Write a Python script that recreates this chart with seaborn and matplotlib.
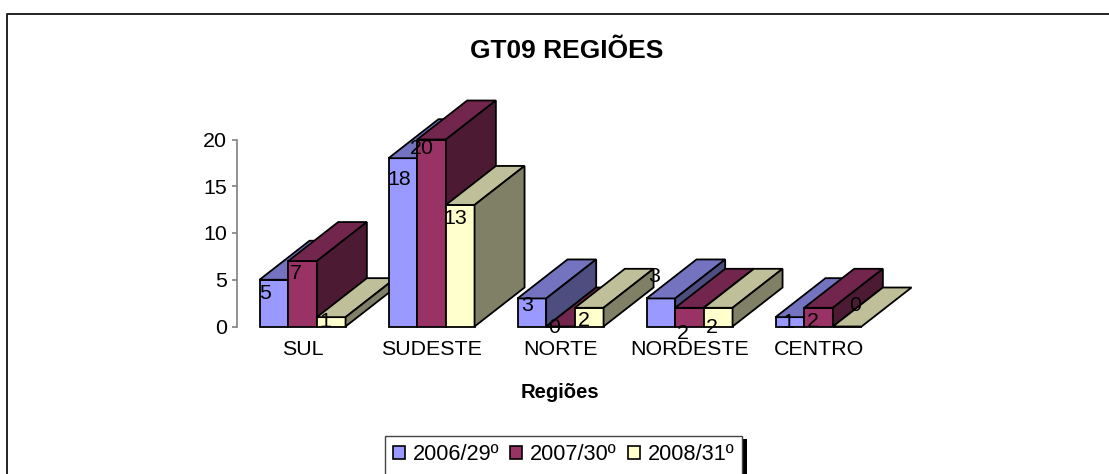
#######################################################
# GT09 regions - 3D look bar chart
#######################################################
import pandas as pd
import matplotlib
matplotlib.use('Agg')
import matplotlib.pyplot as plt
from matplotlib.patches import Polygon, Rectangle
from matplotlib.colors import to_rgb
import seaborn as sns

regions = ['SUL', 'SUDESTE', 'NORTE', 'NORDESTE', 'CENTRO']
series_names = ['2006/29º', '2007/30º', '2008/31º']
values_2006 = [5, 18, 3, 3, 1]
values_2007 = [7, 20, 0, 2, 2]
values_2008 = [1, 13, 2, 2, 0]
colors = ['#9999FF', '#993366', '#FFFFCC']

# where each value label sits, in pixels from the top centre of its bar
label_nudge = [
    [(-9, -14), (-7, -12), (-6, -4)],
    [(-4, -21), (-10, -9), (-5, -14)],
    [(-5, -7), (-6, -1), (-5, -13)],
    [(-7, 22), (-7, -26), (-6, -20)],
    [(-2, -5), (-6, -14), (8, 21)],
]

W, H = 1109, 474
DEPTH_X, DEPTH_Y = 50, 39  # pixels

sns.set_theme(style='white')
plt.rcParams['font.family'] = ['Liberation Sans', 'DejaVu Sans']
plt.rcParams['text.color'] = 'black'

df = pd.DataFrame({
    'region': regions * 3,
    'series': [s for s in series_names for _ in regions],
    'value': values_2006 + values_2007 + values_2008,
})

fig = plt.figure(figsize=(W / 100, H / 100), dpi=100, facecolor='white')
ax = fig.add_axes([237 / W, 1 - 326.5 / H, 645 / W, 187 / H])
ax.patch.set_visible(False)

sns.barplot(data=df, x='region', y='value', hue='series', hue_order=series_names,
            palette=colors, saturation=1, width=0.667, gap=0,
            edgecolor='black', linewidth=1.3, errorbar=None, ax=ax)

ax.set_ylim(0, 20)
ax.set_xlim(-0.508, 4.492)
ax.set_yticks([0, 5, 10, 15, 20])

# depth of the extrusion in data units
dx = DEPTH_X / 129
dy = DEPTH_Y / (187 / 20)


def shade(color, k):
    return tuple(c * k for c in to_rgb(color))


bars = [b for b in ax.patches if b.get_width() > 0][:15]
for s, name in enumerate(series_names):
    for r, region in enumerate(regions):
        bar = bars[s * len(regions) + r]
        z = 3 + r + s * 0.1
        x0, x1 = bar.get_x(), bar.get_x() + bar.get_width()
        top = bar.get_height()
        bar.set_zorder(z)
        bar.set_clip_on(False)
        top_face = [(x0, top), (x1, top), (x1 + dx, top + dy), (x0 + dx, top + dy)]
        side_face = [(x1, 0), (x1 + dx, dy), (x1 + dx, top + dy), (x1, top)]
        ax.add_patch(Polygon(top_face, closed=True, facecolor=shade(colors[s], 0.75),
                             edgecolor='black', linewidth=1.3, zorder=z, clip_on=False))
        if top > 0:
            ax.add_patch(Polygon(side_face, closed=True, facecolor=shade(colors[s], 0.5),
                                 edgecolor='black', linewidth=1.3, zorder=z, clip_on=False))
        ax.annotate(str(top if top % 1 else int(top)), xy=((x0 + x1) / 2, top),
                    xytext=label_nudge[r][s], textcoords='offset pixels',
                    ha='center', va='center', fontsize=15.4, color='black',
                    zorder=20, annotation_clip=False)

sns.despine(ax=ax, top=True, right=True, bottom=True, left=False)
ax.spines['left'].set_color('#808080')
ax.spines['left'].set_linewidth(1.2)
ax.tick_params(axis='y', left=True, length=3.6, width=1.2, color='#808080',
               labelsize=15.4, pad=3.6, labelcolor='black')
ax.tick_params(axis='x', bottom=False, labelsize=15.4, pad=4, labelcolor='black')
ax.set_xlabel('')
ax.set_ylabel('')

handles, labels = ax.get_legend_handles_labels()
ax.get_legend().remove()

fig.text(567 / W, 1 - 51 / H, 'GT09 REGIÕES', ha='center', va='center',
         fontsize=19, fontweight='bold', color='black')
fig.text(560 / W, 1 - 392 / H, 'Regiões', ha='center', va='center',
         fontsize=14.6, fontweight='bold', color='black')

# outer frame of the chart area, open at the bottom and on the right
fig.add_artist(plt.Line2D([7 / W, 7 / W, 1], [0, 1 - 14 / H, 1 - 14 / H],
                          color='#222222', linewidth=1.4))

# legend box with its hard shadow, running off the bottom edge
fig.add_artist(Rectangle((389 / W, 0), 358 / W, 1 - 439 / H, transform=fig.transFigure,
                         facecolor='black', edgecolor='none'))
fig.add_artist(Rectangle((385 / W, -0.02), 357 / W, 1.02 - 436 / H, transform=fig.transFigure,
                         facecolor='white', edgecolor='#444444', linewidth=1))
leg = fig.legend(handles, labels, ncol=3, frameon=False, fontsize=15.7,
                 loc='center', bbox_to_anchor=(563.5 / W, 1 - 455 / H),
                 handlelength=0.55, handleheight=0.55, handletextpad=0.37,
                 columnspacing=0.5, borderpad=0, borderaxespad=0)
for h in leg.legend_handles:
    h.set_linewidth(1.2)

fig.savefig('out.png', dpi=100)
